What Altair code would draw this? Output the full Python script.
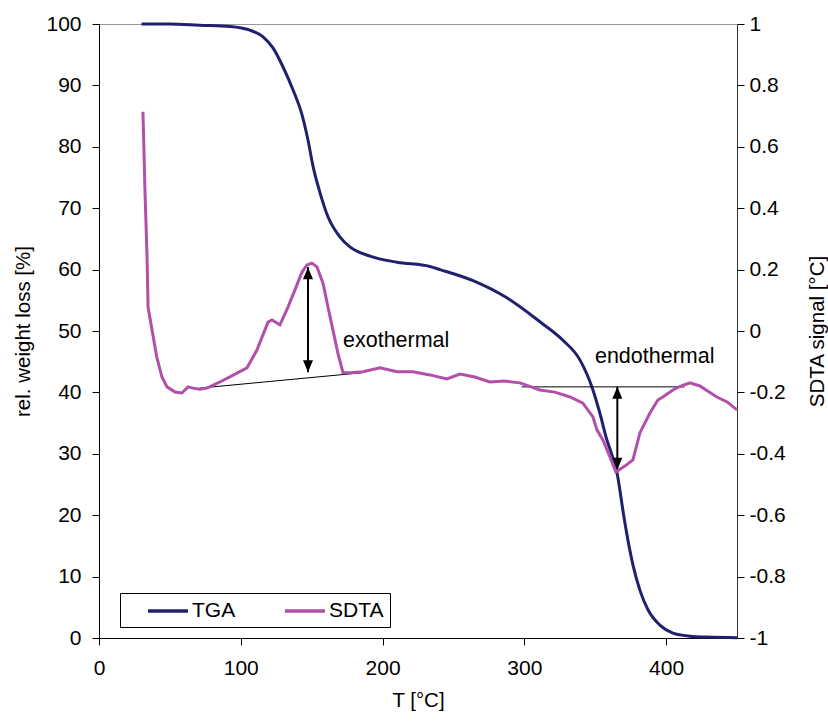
import altair as alt
import pandas as pd

# ---------------- data ----------------
tga_T = [30, 50, 71, 92.4, 106.5, 115.7, 122.7, 129.8, 136.8, 143.2, 147.4, 150.9,
         155.9, 161.5, 170.0, 177.0, 191.1, 210.2, 233.4, 240.5, 263.8, 287.7,
         311.0, 327.2, 339.2, 348.4, 353.3, 358.3, 361.8, 365.3, 367.4, 369.5,
         373.1, 376.6, 381.5, 387.2, 395.6, 404.8, 416.8, 428.8, 450]
tga_w = [100, 100, 99.8, 99.6, 99.0, 97.9, 96.1, 93.0, 89.3, 85.2, 81.1, 76.9,
         72.5, 68.6, 65.3, 63.7, 62.2, 61.2, 60.5, 60.0, 58.2, 55.4,
         51.5, 48.5, 45.3, 40.4, 36.6, 32.2, 29.8, 27.0, 24.1, 20.8,
         15.9, 11.9, 7.8, 4.6, 2.1, 0.8, 0.3, 0.15, 0.05]

sdta_T = [31.0, 32.4, 33.9, 34.6, 37.4, 40.7, 44.4, 48.0, 53.6, 58.5, 62.8, 66.3,
          71.0, 76.2, 85.3, 97.3, 104.4, 111.4, 115.0, 119.2, 122.0, 125.5, 127.6,
          133.3, 138.2, 143.2, 146.7, 150.2, 153.7, 158.0, 161.5, 165.0, 168.5,
          172.1, 177.0, 186.2, 198.2, 210.2, 221.4, 233.4, 245.4, 254.6, 265.0,
          275.7, 286.0, 296.9, 311.0, 321.6, 332.2, 341.3, 348.4, 351.2, 355.4,
          360.4, 364.6, 370.9, 376.6, 381.5, 388.6, 394.2, 397.7, 404.8, 410.0,
          416.8, 423.8, 435.8, 443.0, 450.0]
sdta_s = [0.714, 0.46, 0.241, 0.078, 0.003, -0.084, -0.15, -0.182, -0.199, -0.202, -0.182, -0.186,
          -0.19, -0.186, -0.166, -0.137, -0.12, -0.062, -0.02, 0.029, 0.036, 0.026, 0.02,
          0.078, 0.134, 0.192, 0.215, 0.221, 0.209, 0.156, 0.078, 0.003, -0.072,
          -0.136, -0.136, -0.133, -0.12, -0.133, -0.133, -0.143, -0.156, -0.14, -0.15,
          -0.166, -0.163, -0.169, -0.192, -0.199, -0.215, -0.235, -0.28, -0.322, -0.355,
          -0.41, -0.459, -0.44, -0.42, -0.332, -0.267, -0.225, -0.215, -0.192, -0.18,
          -0.169, -0.179, -0.215, -0.231, -0.257]

# annotations (in weight-loss units)
arrow_T = [147.4, 365.6]
arrow_lo = [43.3, 27.4]
arrow_hi = [60.4, 40.9]
base_T1 = [71.0, 298.0]
base_T2 = [185.5, 413.0]
base_w1 = [40.7, 40.9]
base_w2 = [43.2, 40.9]
label_text = ["exothermal", "endothermal"]
label_T = [172.1, 349.8]
label_w = [47.4, 44.8]

x_ticks = [0, 100, 200, 300, 400]
y_ticks = [0, 10, 20, 30, 40, 50, 60, 70, 80, 90, 100]
s_ticks = [-1, -0.8, -0.6, -0.4, -0.2, 0, 0.2, 0.4, 0.6, 0.8, 1]

NAVY = "#20206F"
MAGENTA = "#B24FA9"
FONT = "Liberation Sans"

tga = pd.DataFrame({"T": tga_T, "w": tga_w, "series": "TGA"})
sdta = pd.DataFrame({"T": sdta_T, "s": sdta_s, "series": "SDTA"})
arrows = pd.DataFrame({"T": arrow_T, "lo": arrow_lo, "hi": arrow_hi})
bases = pd.DataFrame({"T1": base_T1, "T2": base_T2, "w1": base_w1, "w2": base_w2})
labels = pd.DataFrame({"text": label_text, "T": label_T, "w": label_w})

x_scale = alt.Scale(domain=[0, 450], nice=False, zero=False)
y_scale = alt.Scale(domain=[0, 100], nice=False)
s_scale = alt.Scale(domain=[-1, 1], nice=False)

color = alt.Color(
    "series:N",
    scale=alt.Scale(domain=["TGA", "SDTA"], range=[NAVY, MAGENTA]),
    legend=alt.Legend(
        title=None, orient="none", legendX=21, legendY=569, direction="horizontal",
        strokeColor="black", padding=6, symbolType="M-2,0 L2,0", symbolStrokeWidth=3.5,
        symbolSize=400, labelFontSize=21, labelFont=FONT, labelColor="black",
        labelOffset=12, columnPadding=27, symbolOffset=30,
    ),
)

x_axis = alt.Axis(values=x_ticks, title="T [°C]", labelFlush=False, grid=False)
y_axis = alt.Axis(values=y_ticks, title="rel. weight loss [%]", grid=False,
                  titlePadding=12)
s_axis = alt.Axis(values=s_ticks, title="SDTA signal [°C]", orient="right", grid=False,
                  titleAngle=270, titlePadding=42,
                  labelExpr="'' + round(datum.value * 10) / 10")

X = alt.X("T:Q", scale=x_scale, axis=x_axis)

tga_line = alt.Chart(tga).mark_line(strokeWidth=3, interpolate="monotone").encode(
    x=X,
    y=alt.Y("w:Q", scale=y_scale, axis=y_axis),
    color=color,
)

base_rules = alt.Chart(bases).mark_rule(color="black", strokeWidth=1).encode(
    x=alt.X("T1:Q", scale=x_scale, axis=x_axis),
    x2="T2:Q",
    y=alt.Y("w1:Q", scale=y_scale, axis=y_axis),
    y2="w2:Q",
)

shafts = alt.Chart(arrows).mark_rule(color="black", strokeWidth=2).encode(
    x=X,
    y=alt.Y("lo:Q", scale=y_scale, axis=y_axis),
    y2="hi:Q",
)

UP = "M0,0 L-1,2.4 L1,2.4 Z"
DOWN = "M0,0 L-1,-2.4 L1,-2.4 Z"

heads_up = alt.Chart(arrows).mark_point(shape=UP, filled=True, size=100, color="black",
                                        opacity=1, strokeWidth=0).encode(
    x=X,
    y=alt.Y("hi:Q", scale=y_scale, axis=y_axis),
)
heads_down = alt.Chart(arrows).mark_point(shape=DOWN, filled=True, size=100, color="black",
                                          opacity=1, strokeWidth=0).encode(
    x=X,
    y=alt.Y("lo:Q", scale=y_scale, axis=y_axis),
)

texts = alt.Chart(labels).mark_text(align="left", baseline="alphabetic", fontSize=21.5,
                                    font=FONT, color="black").encode(
    x=X,
    y=alt.Y("w:Q", scale=y_scale, axis=y_axis),
    text="text:N",
)

left_layer = alt.layer(tga_line, base_rules, shafts, heads_up, heads_down, texts)

sdta_line = alt.Chart(sdta).mark_line(strokeWidth=3).encode(
    x=X,
    y=alt.Y("s:Q", scale=s_scale, axis=s_axis),
    color=color,
)

chart = alt.layer(left_layer, sdta_line).resolve_scale(y="independent").properties(
    width=638, height=614,
    autosize=alt.AutoSizeParams(type="none"),
    padding={"left": 99, "top": 24, "right": 91, "bottom": 84},
).configure_view(
    stroke="#999999", strokeWidth=1
).configure_axis(
    labelFont=FONT, titleFont=FONT, labelFontSize=21, titleFontSize=20.5,
    labelColor="black", titleColor="black", titleFontWeight="normal",
    domainColor="black", tickColor="black", tickSize=7, labelPadding=4,
).configure_axisLeft(
    labelPadding=11,
).configure_axisRight(
    labelPadding=5, domainColor="#333333",
).configure_axisBottom(
    labelPadding=12, titlePadding=12,
)

chart.save("out.html", embed_options={"renderer": "svg", "actions": False})
